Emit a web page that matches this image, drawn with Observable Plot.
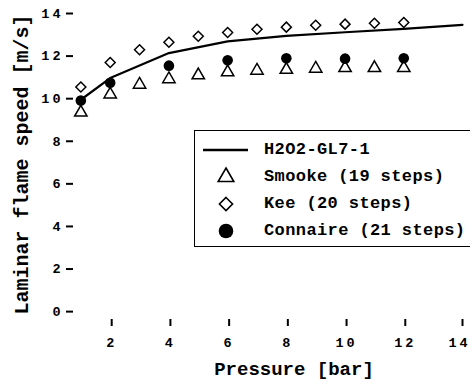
<!DOCTYPE html>
<html>
<head>
<meta charset="utf-8">
<script src="https://cdn.jsdelivr.net/npm/d3@7"></script>
<script src="https://cdn.jsdelivr.net/npm/@observablehq/plot@0.6"></script>
<style>
  html, body { margin: 0; padding: 0; background: #fff; overflow: hidden; }
  #wrap { position: relative; width: 470px; height: 385px; }
  #wrap g[aria-label="x-axis tick label"] text,
  #wrap g[aria-label="y-axis tick label"] text { letter-spacing: 3px; }
  #legend { position: absolute; left: 194px; top: 130px; width: 300px; height: 117px;
    border: 1.5px solid #000; background: #fff; box-sizing: border-box;
    font-family: "Liberation Mono", "Courier New", monospace; font-weight: bold; font-size: 17px;
    letter-spacing: 0.4px; }
  .row { position: absolute; left: 0; height: 26px; line-height: 26px; white-space: nowrap; }
  .row svg { position: absolute; left: 0; top: 0; }
  .row span { position: absolute; left: 69px; top: 0; }
</style>
</head>
<body>
<div id="wrap"></div>
<script>
// Data
const modelPressure = [1, 2, 4, 6, 8, 10, 12, 14];
const modelSpeed = [9.95, 10.97, 12.14, 12.69, 12.95, 13.12, 13.28, 13.47];

const smookePressure = [1, 2, 3, 4, 5, 6, 7, 8, 9, 10, 11, 12];
const smookeSpeed = [9.35, 10.2, 10.66, 10.92, 11.1, 11.24, 11.32, 11.36, 11.41, 11.44, 11.44, 11.44];

const keePressure = [1, 2, 3, 4, 5, 6, 7, 8, 9, 10, 11, 12];
const keeSpeed = [10.55, 11.7, 12.3, 12.65, 12.93, 13.11, 13.26, 13.36, 13.45, 13.5, 13.54, 13.58];

const connairePressure = [1, 2, 4, 6, 8, 10, 12];
const connaireSpeed = [9.91, 10.75, 11.55, 11.8, 11.9, 11.88, 11.9];

const xTicks = [2, 4, 6, 8, 10, 12, 14];
const yTicks = [0, 2, 4, 6, 8, 10, 12, 14];

const seriesNames = ["H2O2-GL7-1", "Smooke (19 steps)", "Kee (20 steps)", "Connaire (21 steps)"];
const xLabel = "Pressure [bar]";
const yLabel = "Laminar flame speed [m/s]";

const toRows = (xs, ys) => xs.map((x, i) => ({x, y: ys[i]}));
const model = toRows(modelPressure, modelSpeed);
const smooke = toRows(smookePressure, smookeSpeed);
const kee = toRows(keePressure, keeSpeed);
const connaire = toRows(connairePressure, connaireSpeed);

const FONT = "Liberation Mono, Courier New, monospace";
const innerXTicks = xTicks.slice(0, -1);
const lastXTick = xTicks.slice(-1);

const chart = Plot.plot({
  width: 470,
  height: 385,
  marginLeft: 73,
  marginRight: 8,
  marginTop: 13,
  marginBottom: 66,
  style: {fontFamily: FONT, fontWeight: "bold", fontSize: "13.5px", background: "#fff", color: "#000"},
  x: {domain: [0.75, 14]},
  y: {domain: [-0.37, 14]},
  marks: [
    Plot.axisX({ticks: innerXTicks, tickSize: 7, tickPadding: 11, line: true, label: null, strokeWidth: 2, fontSize: 13.5, dx: 1.5}),
    Plot.axisX({ticks: lastXTick, tickSize: 7, tickFormat: () => "", label: null, strokeWidth: 2}),
    Plot.axisX({ticks: lastXTick, tickSize: 0, tickPadding: 18, label: null, fontSize: 13.5, dx: -3}),
    Plot.axisY({ticks: yTicks, tickSize: 7, tickPadding: 3, line: true, label: null, strokeWidth: 2, fontSize: 13.5}),
    Plot.line(model, {x: "x", y: "y", stroke: "#000", strokeWidth: 2.2}),
    Plot.dot(smooke, {x: "x", y: "y", symbol: "triangle", r: 4.6, fill: "#fff", stroke: "#000", strokeWidth: 1.5}),
    Plot.dot(kee, {x: "x", y: "y", symbol: "diamond2", r: 4.5, fill: "#fff", stroke: "#000", strokeWidth: 1.5}),
    Plot.dot(connaire, {x: "x", y: "y", symbol: "circle", r: 5.3, fill: "#000", stroke: "#000", strokeWidth: 0}),
    Plot.text([xLabel], {frameAnchor: "bottom", textAnchor: "middle", lineAnchor: "middle", dx: 26, dy: 49, fontSize: 19, fontWeight: "bold", fill: "#000"}),
    Plot.text([yLabel], {frameAnchor: "left", textAnchor: "middle", lineAnchor: "middle", rotate: -90, dx: -52, dy: -2, fontSize: 20, fontWeight: "bold", fill: "#000"})
  ]
});

const wrap = document.getElementById("wrap");
wrap.appendChild(chart);

// Legend
const legend = document.createElement("div");
legend.id = "legend";
wrap.appendChild(legend);
const rowTops = [6, 33, 60, 86.5];
const kinds = ["line", "triangle", "diamond2", "circle"];
const symMap = {triangle: d3.symbolTriangle, diamond2: d3.symbolDiamond2, circle: d3.symbolCircle};
const rSize = {triangle: 5.8, diamond2: 5.9, circle: 7.3};
seriesNames.forEach((name, i) => {
  const row = document.createElement("div");
  row.className = "row";
  row.style.top = rowTops[i] + "px";
  const svg = d3.create("svg").attr("width", 60).attr("height", 26);
  const k = kinds[i];
  if (k === "line") {
    svg.append("line").attr("x1", 8).attr("x2", 53).attr("y1", 13).attr("y2", 13)
      .attr("stroke", "#000").attr("stroke-width", 2.5);
  } else {
    const r = rSize[k];
    svg.append("path")
      .attr("transform", "translate(31,13)")
      .attr("d", d3.symbol(symMap[k], Math.PI * r * r)())
      .attr("fill", k === "circle" ? "#000" : "#fff")
      .attr("stroke", "#000")
      .attr("stroke-width", k === "circle" ? 0 : 1.6);
  }
  row.appendChild(svg.node());
  const span = document.createElement("span");
  span.textContent = name;
  row.appendChild(span);
  legend.appendChild(row);
});
</script>
</body>
</html>
